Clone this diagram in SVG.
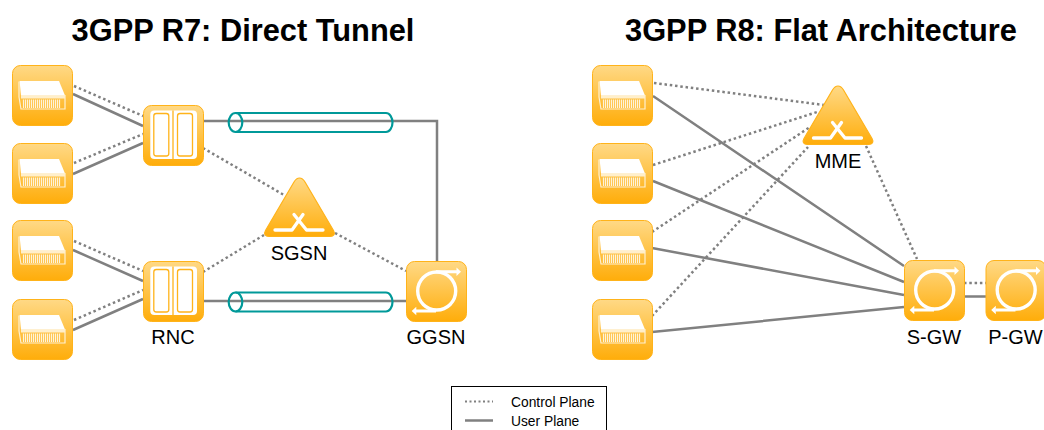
<svg xmlns="http://www.w3.org/2000/svg" width="1044" height="430" viewBox="0 0 1044 430">
<style>
text{font-family:"Liberation Sans",Arial,sans-serif;fill:#000}
.t{font-size:30.800px;font-weight:700;text-anchor:middle}
.l{font-size:20px;text-anchor:middle}
.k{font-size:13.800px}
.c{stroke:#808080;stroke-width:2.500;stroke-dasharray:2.500 2.800;fill:none}
.u{stroke:#808080;stroke-width:2.500;fill:none}
.tube{fill:none;stroke:#009999;stroke-width:2.200}
.w{fill:none;stroke:#fff;stroke-width:3.300;stroke-linecap:round;stroke-linejoin:round}
</style>
<defs>
<linearGradient id="g" x1="0" y1="0" x2="0" y2="1"><stop offset="0" stop-color="#FFD986"/><stop offset="1" stop-color="#FFAD0A"/></linearGradient>
<g id="base"><rect x="0.500" y="0.500" width="60" height="60" rx="8" fill="url(#g)" stroke="#FFB31A"/></g>
<g id="enb">
<use href="#base"/>
<path d="M7.600 16H47L53 30.600H9Z" fill="#fff"/>
<path d="M7 16.500V32L9 44H53V30.600H9" fill="none" stroke="#FFF0D0" stroke-width="1.200"/>
<path d="M9 31H53V33.500H9Z" fill="#FFEFCB"/>
<path d="M11.500 34.500V43M13.500 34.500V43M15.500 34.500V43M17.500 34.500V43M19.500 34.500V43M21.500 34.500V43M23.500 34.500V43M25.500 34.500V43M27.500 34.500V43M29.500 34.500V43M31.500 34.500V43M33.500 34.500V43M35.500 34.500V43M37.500 34.500V43M39.500 34.500V43M41.500 34.500V43M43.500 34.500V43M45.500 34.500V43M47.500 34.500V43" stroke="#FFF3D8" stroke-width="1.200"/>
</g>
<g id="rnc">
<use href="#base"/>
<rect x="7.300" y="5.500" width="46.700" height="48.500" rx="4" fill="#fff"/>
<rect x="10.800" y="8.500" width="15" height="42.500" rx="2.500" fill="#fff" stroke="#FFB31A" stroke-width="1.300"/>
<rect x="34.500" y="8.500" width="15" height="42.500" rx="2.500" fill="#fff" stroke="#FFB31A" stroke-width="1.300"/>
<path d="M30 5.500V54" stroke="#FFB31A" stroke-width="1.300"/>
</g>
<g id="gw">
<use href="#base"/>
<circle cx="30.700" cy="30" r="19" fill="none" stroke="#fff" stroke-width="3.400"/>
<path d="M30 10.700H51M30 50H10" fill="none" stroke="#fff" stroke-width="3"/>
<path d="M50.500 6.500L55 10.700L50.500 14.900ZM10.300 45.800L5.700 50L10.300 54.200Z" fill="#fff"/>
</g>
<g id="sw">
<path d="M35.500 1C33 1 31.500 2.500 30 5L1.500 53.500C-0.500 57 1 59.500 5 59.500H66C70 59.500 71.500 57 69.500 53.500L41 5C39.500 2.500 38 1 35.500 1Z" fill="url(#g)" stroke="#FFB31A" stroke-width="1.200"/>
<path d="M11 53H28L39 37.500M30 37.500L42.500 53H59" class="w"/>
</g>
</defs>
<text class="t" x="243" y="41">3GPP R7: Direct Tunnel</text>
<text class="t" x="821" y="41">3GPP R8: Flat Architecture</text>
<g id="connectors">
<path class="c" d="M74 86L143 116M74 163L143 134M74 241L143 271M74 320L143 290M203 148L284 195M203 272L264 235M335 233L406 271"/>
<path class="u" d="M73 94L143 126M73 174L143 143M73 250L143 281M73 330L143 299M203 121H437V261M203 301H406"/>
<path class="c" d="M654 83L824 105M653 165L817 112M652 232L810 127M652 316L808 147M866 146L917 259M964 283H986"/>
<path class="u" d="M653 96L904 266M653 181L904 282M652 248L904 295M652 332L904 307M964 296.500H986"/>
<g id="tunnel-1"><path class="tube" d="M235.500 113H386a6.500 9.500 0 0 1 0 19H235.500"/><ellipse class="tube" cx="235.500" cy="122.500" rx="6.800" ry="9.500"/></g>
<g id="tunnel-2"><path class="tube" d="M235.500 292.500H386a6.500 9.500 0 0 1 0 19H235.500"/><ellipse class="tube" cx="235.500" cy="302" rx="6.800" ry="9.500"/></g>
</g>
<g id="enb-1"><use href="#enb" x="12" y="65"/></g>
<g id="enb-2"><use href="#enb" x="12" y="143"/></g>
<g id="enb-3"><use href="#enb" x="12" y="220"/></g>
<g id="enb-4"><use href="#enb" x="12" y="299"/></g>
<g id="rnc-1"><use href="#rnc" x="143" y="105"/></g>
<g id="rnc-2"><use href="#rnc" x="143" y="261"/><text class="l" x="173" y="344">RNC</text></g>
<g id="sgsn"><use href="#sw" x="264" y="177"/><text class="l" x="299" y="260">SGSN</text></g>
<g id="ggsn"><use href="#gw" x="406" y="261"/><text class="l" x="436" y="344">GGSN</text></g>
<g id="enb-5"><use href="#enb" x="592" y="65"/></g>
<g id="enb-6"><use href="#enb" x="592" y="143"/></g>
<g id="enb-7"><use href="#enb" x="592" y="220"/></g>
<g id="enb-8"><use href="#enb" x="592" y="299"/></g>
<g id="mme"><use href="#sw" x="802.500" y="85"/><text class="l" x="838" y="168">MME</text></g>
<g id="s-gw"><use href="#gw" x="904" y="260"/><text class="l" x="934" y="344">S-GW</text></g>
<g id="p-gw"><use href="#gw" x="985.500" y="260"/><text class="l" x="1015.500" y="344">P-GW</text></g>
<g id="legend">
<rect x="451.500" y="386.500" width="155" height="50" fill="#fff" stroke="#000"/>
<path class="c" d="M465 401.500H493" style="stroke-width:2;stroke-dasharray:2 2.500"/>
<path class="u" d="M465 420.500H493"/>
<text class="k" x="511" y="407">Control Plane</text>
<text class="k" x="511" y="426">User Plane</text>
</g>
</svg>
